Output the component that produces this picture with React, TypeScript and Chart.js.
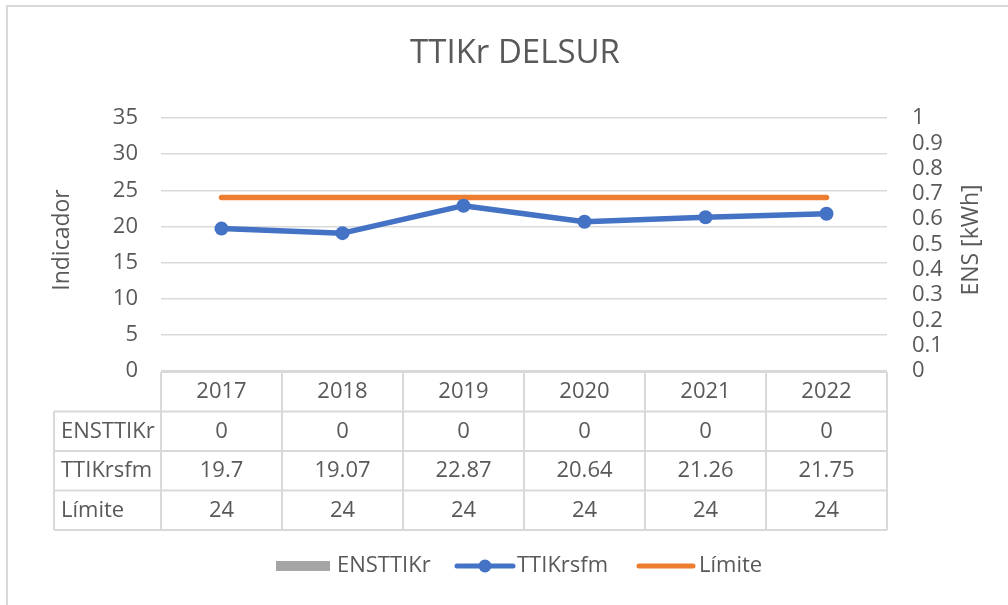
import React, { useEffect, useRef } from 'react';
import { Chart, registerables } from 'chart.js';

Chart.register(...registerables);

// ---- data ----
const TITLE = 'TTIKr DELSUR';
const YEARS = ['2017', '2018', '2019', '2020', '2021', '2022'];
const ENS_VALUES = [0, 0, 0, 0, 0, 0];
const TTIK_VALUES = [19.7, 19.07, 22.87, 20.64, 21.26, 21.75];
const LIMITE_VALUES = [24, 24, 24, 24, 24, 24];
const SERIES_NAMES = ['ENSTTIKr', 'TTIKrsfm', 'Límite'];
const LEFT_AXIS_TITLE = 'Indicador';
const RIGHT_AXIS_TITLE = 'ENS [kWh]';
const LEFT_MAX = 35;
const LEFT_STEP = 5;
const RIGHT_MAX = 1;
const RIGHT_STEP = 0.1;

// ---- styles ----
const FONT = "'Open Sans', sans-serif";
const TXT = '#595959';
const GRID = '#d9d9d9';
const GRAY = '#a5a5a5';
const BLUE = '#4472c4';
const ORANGE = '#ed7d31';

const W = 1008;
const H = 605;

const decor = {
  id: 'decor',
  afterDraw(chart: any) {
    const { ctx, chartArea: ca } = chart;
    ctx.save();

    // outer frame (left + top)
    ctx.strokeStyle = GRID;
    ctx.lineWidth = 2;
    ctx.beginPath();
    ctx.moveTo(7, chart.height);
    ctx.lineTo(7, 6);
    ctx.lineTo(chart.width, 6);
    ctx.stroke();

    // title
    ctx.fillStyle = TXT;
    ctx.textAlign = 'center';
    ctx.textBaseline = 'middle';
    ctx.font = `33px ${FONT}`;
    ctx.fillText(TITLE, 515, 54);

    // axis titles
    ctx.font = `23px ${FONT}`;
    ctx.save();
    ctx.translate(62, 240);
    ctx.rotate(-Math.PI / 2);
    ctx.fillText(LEFT_AXIS_TITLE, 0, 0);
    ctx.restore();
    ctx.save();
    ctx.translate(971, 240);
    ctx.rotate(-Math.PI / 2);
    ctx.fillText(RIGHT_AXIS_TITLE, 0, 0);
    ctx.restore();

    // data table
    const n = YEARS.length;
    const colW = (ca.right - ca.left) / n;
    const rowH = 39.5;
    const labelLeft = 54;
    const top = ca.bottom + 1;
    const rows = [
      { name: SERIES_NAMES[0], vals: ENS_VALUES },
      { name: SERIES_NAMES[1], vals: TTIK_VALUES },
      { name: SERIES_NAMES[2], vals: LIMITE_VALUES },
    ];
    const bottom = top + rowH * (rows.length + 1);

    ctx.strokeStyle = GRID;
    ctx.lineWidth = 2;
    ctx.beginPath();
    ctx.moveTo(ca.left, top);
    ctx.lineTo(ca.right, top);
    for (let r = 1; r <= rows.length + 1; r++) {
      const y = top + rowH * r;
      ctx.moveTo(labelLeft, y);
      ctx.lineTo(ca.right, y);
    }
    ctx.moveTo(labelLeft, top + rowH);
    ctx.lineTo(labelLeft, bottom);
    for (let i = 0; i <= n; i++) {
      const x = ca.left + colW * i;
      ctx.moveTo(x, top);
      ctx.lineTo(x, bottom);
    }
    ctx.stroke();

    ctx.fillStyle = TXT;
    ctx.font = `22px ${FONT}`;
    ctx.textBaseline = 'middle';
    ctx.textAlign = 'center';
    const xs = chart.scales.x;
    YEARS.forEach((yr, i) => {
      ctx.fillText(yr, xs.getPixelForValue(i), top + rowH / 2);
    });
    rows.forEach((row, r) => {
      const cy = top + rowH * (r + 1) + rowH / 2;
      ctx.textAlign = 'left';
      ctx.fillText(row.name, 61, cy);
      ctx.textAlign = 'center';
      row.vals.forEach((v, i) => {
        ctx.fillText(String(v), xs.getPixelForValue(i), cy);
      });
    });

    // legend
    const ly = 566;
    ctx.font = `22px ${FONT}`;
    ctx.textAlign = 'left';
    ctx.fillStyle = GRAY;
    ctx.fillRect(276, ly - 5, 54, 10);
    ctx.fillStyle = TXT;
    ctx.fillText(SERIES_NAMES[0], 337, ly);
    ctx.strokeStyle = BLUE;
    ctx.lineWidth = 5;
    ctx.lineCap = 'round';
    ctx.beginPath();
    ctx.moveTo(457, ly);
    ctx.lineTo(513, ly);
    ctx.stroke();
    ctx.fillStyle = BLUE;
    ctx.beginPath();
    ctx.arc(485, ly, 6.5, 0, Math.PI * 2);
    ctx.fill();
    ctx.fillStyle = TXT;
    ctx.fillText(SERIES_NAMES[1], 517, ly);
    ctx.strokeStyle = ORANGE;
    ctx.beginPath();
    ctx.moveTo(639, ly);
    ctx.lineTo(693, ly);
    ctx.stroke();
    ctx.fillStyle = TXT;
    ctx.fillText(SERIES_NAMES[2], 699, ly);

    ctx.restore();
  },
};

export default function App() {
  const ref = useRef<HTMLCanvasElement | null>(null);

  useEffect(() => {
    document.body.style.margin = '0';
    const canvas = ref.current;
    if (!canvas) return;
    const chart = new Chart(canvas, {
      type: 'bar',
      data: {
        labels: YEARS,
        datasets: [
          {
            type: 'bar',
            label: SERIES_NAMES[0],
            data: ENS_VALUES,
            backgroundColor: GRAY,
            yAxisID: 'y1',
            order: 3,
          },
          {
            type: 'line',
            label: SERIES_NAMES[1],
            data: TTIK_VALUES,
            borderColor: BLUE,
            backgroundColor: BLUE,
            borderWidth: 5.5,
            pointRadius: 7,
            pointBorderWidth: 0,
            pointBackgroundColor: BLUE,
            borderCapStyle: 'round',
            borderJoinStyle: 'round',
            yAxisID: 'y',
            order: 1,
          },
          {
            type: 'line',
            label: SERIES_NAMES[2],
            data: LIMITE_VALUES,
            borderColor: ORANGE,
            backgroundColor: ORANGE,
            borderWidth: 5.5,
            pointRadius: 0,
            borderCapStyle: 'round',
            yAxisID: 'y',
            order: 2,
          },
        ] as any,
      },
      options: {
        responsive: false,
        animation: false,
        devicePixelRatio: 1,
        layout: { padding: { top: 118, left: 0, right: 0, bottom: 0 } },
        plugins: {
          legend: { display: false },
          title: { display: false },
          tooltip: { enabled: false },
        },
        scales: {
          x: {
            offset: true,
            grid: { display: false },
            border: { display: false },
            ticks: { display: false },
            afterFit: (s: any) => {
              s.height = H - 371;
            },
          },
          y: {
            position: 'left',
            min: 0,
            max: LEFT_MAX,
            ticks: {
              stepSize: LEFT_STEP,
              autoSkip: false,
              color: TXT,
              padding: 23,
              font: { family: FONT, size: 22 },
            },
            grid: { color: GRID, lineWidth: 1.5, drawTicks: false },
            border: { display: false },
            afterFit: (s: any) => {
              s.width = 161;
            },
          },
          y1: {
            position: 'right',
            min: 0,
            max: RIGHT_MAX,
            ticks: {
              stepSize: RIGHT_STEP,
              autoSkip: false,
              color: TXT,
              padding: 25,
              font: { family: FONT, size: 22, lineHeight: 1 },
              callback: (v: any) => String(Number(Number(v).toFixed(1))),
            },
            grid: { display: false, drawTicks: false },
            border: { display: false },
            afterFit: (s: any) => {
              s.width = W - 887;
            },
          },
        },
      } as any,
      plugins: [decor],
    });
    return () => chart.destroy();
  }, []);

  return (
    <div style={{ width: W, height: H, background: '#fff' }}>
      <canvas ref={ref} width={W} height={H} style={{ display: 'block' }} />
    </div>
  );
}
